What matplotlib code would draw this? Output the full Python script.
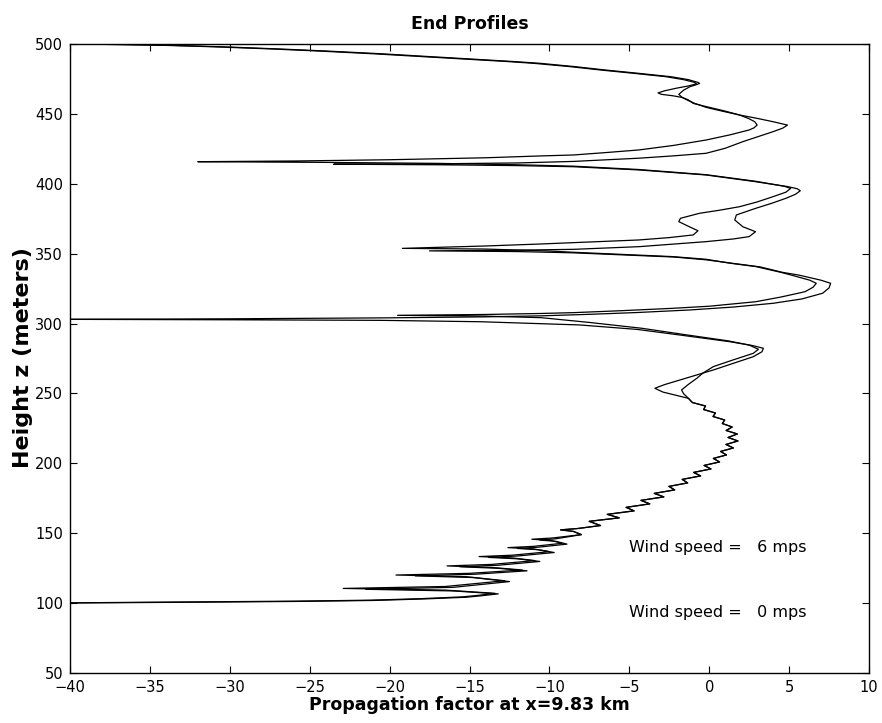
import matplotlib.pyplot as plt

# heights (m) and propagation factor (dB)
# top of the profile, z 500 -> 474.5, both winds
z_top = [500.0, 499.6, 499.0, 498.0, 496.5, 495.0, 493.0, 491.0, 489.0, 487.5,
         486.2, 483.8, 481.4, 479.0, 476.6, 474.5]
pf_top_0 = [-40, -37, -34, -31, -27.5, -24.5, -21, -18, -15, -12.7,
            -11.0, -8.7, -6.8, -4.7, -2.7, -1.6]
pf_top_6 = [-40, -36.5, -33.5, -30.5, -27, -24, -20.5, -17.5, -14.6, -12.3,
            -10.6, -8.4, -6.5, -4.4, -2.4, -1.3]

# lobes between 472 and 247 m, wind 0 mps
z_mid_0 = [472.5, 471.5, 470.0, 468.5, 466.5, 465.0, 464.0, 463.0, 461.8, 460.0,
           457.5, 454.7, 452.0, 449.2, 446.5, 444.4, 442.0, 440.0, 438.5, 435.0,
           431.3, 427.5, 424.2, 422.3, 420.6, 419.9, 418.6, 417.2, 416.3, 415.8,
           415.3, 414.6, 413.6, 412.6, 410.2, 406.5, 401.8, 398.2, 396.7, 394.0,
           390.8, 387.0, 383.6, 381.0, 378.9, 375.3, 372.9, 369.3, 366.4, 363.4,
           361.5, 359.8, 357.9, 356.9, 355.5, 353.8, 353.3, 351.9, 351.0, 349.0,
           347.9, 346.0, 343.1, 340.8, 336.6, 334.8, 331.0, 328.8, 326.0, 322.8,
           319.0, 315.6, 312.4, 310.9, 309.2, 307.8, 307.2, 306.5, 305.9, 305.3,
           304.2, 300.8, 296.6, 292.2, 287.6, 284.6, 281.6, 278.7, 274.0, 269.2,
           264.5, 260.8, 256.5, 252.5, 249.8, 247.7]
pf_mid_0 = [-0.9, -0.8, -1.3, -2.0, -2.8, -3.2, -3.0, -2.3, -1.7, -1.3,
            -1.0, 0.0, 1.0, 1.9, 2.5, 2.85, 3.0, 2.8, 2.5, 1.3,
            -0.2, -2.2, -4.4, -6.5, -8.5, -10.6, -14, -20, -26, -32,
            -24, -17, -12, -8.5, -4.4, -0.2, 2.9, 4.7, 5.1, 4.8,
            4.0, 3.0, 1.9, 0.6, -0.6, -1.8, -1.9, -1.25, -0.7, -1.0,
            -2.5, -4.4, -8.5, -10.6, -14, -19.2, -14, -10, -8.5, -4.4,
            -2.3, -0.2, 1.35, 2.9, 4.5, 5.1, 6.3, 6.7, 6.5, 6.0,
            4.5, 2.9, 0.0, -2.3, -5.5, -8.5, -10.6, -14, -19.5, -14,
            -10.5, -7.5, -4.2, -1.6, 1.2, 2.5, 3.08, 2.76, 1.5, 0.26,
            -0.4, -0.78, -1.3, -1.73, -1.6, -1.41]

# same band, wind 6 mps
z_mid_6 = [472.5, 471.8, 470.5, 469.5, 467.0, 464.0, 461.8, 459.5, 457.5, 454.7,
           452.0, 449.2, 446.8, 444.4, 442.0, 439.8, 437.3, 433.5, 430.1, 427.5,
           425.4, 421.8, 420.0, 418.3, 416.0, 414.9, 414.3, 414.0, 413.6, 413.0,
           412.2, 409.9, 406.3, 401.5, 398.0, 396.5, 395.0, 392.5, 389.6, 386.0,
           382.4, 377.7, 374.1, 369.3, 365.7, 362.2, 360.5, 358.6, 355.0, 353.1,
           352.5, 352.0, 351.5, 350.6, 348.6, 347.6, 345.6, 342.9, 340.5, 336.6,
           334.7, 331.0, 328.8, 325.5, 321.7, 317.6, 314.5, 311.8, 309.7, 307.9,
           306.6, 305.5, 304.8, 304.1, 303.4, 303.0, 302.7, 302.3, 301.3, 299.0,
           295.8, 291.8, 287.0, 284.3, 282.3, 279.8, 276.3, 271.5, 266.8, 262.8,
           259.6, 256.3, 253.7, 251.0, 248.5]
pf_mid_6 = [-0.7, -0.6, -0.9, -1.2, -1.6, -1.9, -1.7, -1.3, -0.9, -0.2,
            0.8, 1.9, 3.0, 4.0, 4.9, 4.6, 4.0, 3.0, 2.1, 1.5,
            1.0, -0.2, -2.2, -4.4, -8.5, -12, -17, -23.5, -17, -12,
            -8.5, -4.4, -0.2, 2.9, 4.9, 5.5, 5.7, 5.4, 4.8, 3.9,
            2.9, 1.7, 1.6, 2.1, 2.9, 2.5, 1.5, -0.2, -4.4, -8.5,
            -12, -17.5, -12, -8.5, -4.4, -2.2, -0.2, 1.6, 3.2, 4.6,
            5.6, 7.0, 7.6, 7.5, 7.1, 5.8, 4.0, 1.5, -1.25, -4.5,
            -7.5, -10.6, -14, -20, -30, -40, -30, -20.6, -14.3, -8.1,
            -4.5, -1.83, 1.3, 2.7, 3.39, 3.3, 2.76, 1.5, 0.26, -0.9,
            -1.83, -2.8, -3.4, -2.9, -2.0]

# fine ripples 246 -> 149 m, the two curves lie on top of each other
z_wig = [246.5, 243.5, 241.0, 238.5, 236.0, 233.5, 231.0, 228.5, 226.0, 223.5,
         221.0, 218.5, 216.0, 213.5, 211.0, 208.5, 206.0, 203.5, 201.0, 198.5,
         196.0, 193.5, 191.0, 188.5, 186.0, 183.5, 181.0, 178.5, 176.0, 173.5,
         171.0, 168.5, 166.0, 163.5, 161.0, 158.5, 155.5, 153.4, 152.4, 151.3,
         149.0]
pf_wig = [-1.3, -1.05, -0.23, -0.35, 0.39, 0.24, 0.97, 0.82, 1.44, 1.06,
          1.76, 1.18, 1.8, 1.05, 1.51, 0.71, 1.08, 0.26, 0.65, -0.32,
          0.11, -0.98, -0.54, -1.69, -1.35, -2.52, -2.16, -3.44, -2.84, -4.27,
          -3.72, -5.2, -4.7, -6.38, -5.63, -7.51, -6.8, -8.2, -9.3, -8.5,
          -8.0]

# deep ripples near the bottom
z_low_0 = [146.6, 145.7, 144.8, 142.8, 140.6, 139.7, 138.8, 136.8, 134.3, 133.3,
           132.3, 130.4, 127.7, 126.6, 125.5, 123.7, 121.3, 120.1, 118.9, 116.0,
           111.9, 110.5, 109.3, 107.0, 105.5, 104.5, 103.2, 102.1, 101.4, 100.9,
           100.5, 100.2]
pf_low_0 = [-9.8, -11.1, -9.9, -9.2, -11.0, -12.6, -11.0, -10.0, -12.3, -14.4,
            -12.3, -10.9, -13.6, -16.4, -13.6, -11.7, -15.0, -19.6, -15.2, -12.8,
            -16.5, -22.9, -16.5, -13.4, -14.5, -15.4, -18.0, -21.2, -26.0, -31.6,
            -36.0, -40.0]
z_low_6 = [146.0, 145.1, 144.2, 142.2, 140.0, 139.1, 138.2, 136.2, 133.7, 132.7,
           131.7, 129.8, 127.1, 126.0, 124.9, 123.1, 120.7, 119.5, 118.3, 115.4,
           111.3, 109.9, 108.7, 106.6, 105.2, 104.2, 103.0, 101.9, 101.2, 100.7,
           100.4, 100.1]
pf_low_6 = [-9.6, -10.6, -9.6, -8.9, -10.7, -12.0, -10.7, -9.7, -12.0, -13.8,
            -12.0, -10.6, -13.2, -15.6, -13.2, -11.4, -14.6, -18.4, -14.8, -12.5,
            -16.0, -21.5, -16.0, -13.2, -14.3, -15.2, -17.8, -21.0, -25.8, -31.4,
            -35.8, -40.0]

z0 = z_top + z_mid_0 + z_wig + z_low_0
pf0 = pf_top_0 + pf_mid_0 + pf_wig + pf_low_0
z6 = z_top + z_mid_6 + z_wig + z_low_6
pf6 = pf_top_6 + pf_mid_6 + pf_wig + pf_low_6

fig = plt.figure(figsize=(8.82, 7.23), dpi=100)
ax = fig.add_axes([70/882, 50/723, 799/882, 629/723])

ax.plot(pf6, z6, color='black', lw=0.9)
ax.plot(pf0, z0, color='black', lw=0.9)

ax.set_xlim(-40, 10)
ax.set_ylim(50, 500)
ax.set_xticks(range(-40, 11, 5))
ax.set_yticks(range(50, 501, 50))
ax.tick_params(direction='in', length=5, width=0.8, top=True, right=True,
               labelsize=10.5, pad=5)
for s in ax.spines.values():
    s.set_linewidth(1.0)

ax.text(-5, 139.5, 'Wind speed =   6 mps', fontsize=11.5, va='center')
ax.text(-5, 93, 'Wind speed =   0 mps', fontsize=11.5, va='center')

ax.set_title('End Profiles', fontsize=12.5, fontweight='bold', pad=11)
ax.set_xlabel('Propagation factor at x=9.83 km', fontsize=12.5, fontweight='bold', labelpad=1)
fig.text(23/882, 1 - 358/723, 'Height z (meters)', fontsize=16, fontweight='bold',
         rotation=90, ha='center', va='center')

fig.savefig('out.png', dpi=100)
